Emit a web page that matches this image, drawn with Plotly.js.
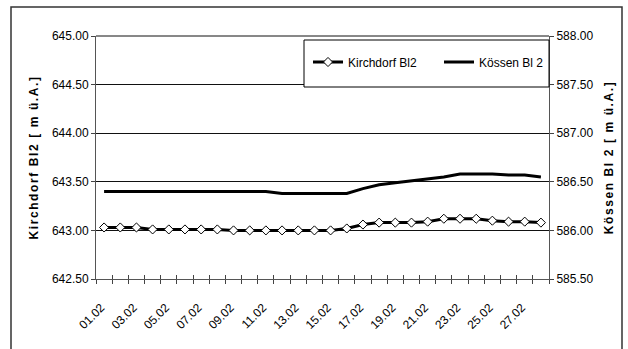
<!DOCTYPE html>
<html>
<head>
<meta charset="utf-8">
<script src="https://cdn.plot.ly/plotly-3.0.1.min.js"></script>
<style>
  html, body { margin: 0; padding: 0; background: #fff; }
  #chart { width: 628px; height: 349px; }
  .ytitle, .y2title { letter-spacing: 1.6px; }
</style>
</head>
<body>
<div id="chart"></div>
<script>
// Data
const dates = ['01.02','02.02','03.02','04.02','05.02','06.02','07.02','08.02','09.02','10.02',
               '11.02','12.02','13.02','14.02','15.02','16.02','17.02','18.02','19.02','20.02',
               '21.02','22.02','23.02','24.02','25.02','26.02','27.02','28.02'];
const kirchdorf = [643.03,643.03,643.03,643.01,643.01,643.01,643.01,643.01,643.00,643.00,
                   643.00,643.00,643.00,643.00,643.00,643.02,643.06,643.08,643.08,643.08,
                   643.09,643.12,643.12,643.12,643.10,643.09,643.09,643.08];
const koessen = [586.40,586.40,586.40,586.40,586.40,586.40,586.40,586.40,586.40,586.40,
                 586.40,586.38,586.38,586.38,586.38,586.38,586.43,586.47,586.49,586.51,
                 586.53,586.55,586.58,586.58,586.58,586.57,586.57,586.55];
const tickLabels = ['01.02','','03.02','','05.02','','07.02','','09.02','',
                    '11.02','','13.02','','15.02','','17.02','','19.02','',
                    '21.02','','23.02','','25.02','','27.02',''];
const leftRange = [642.5, 645];
const rightRange = [585.5, 588];

const FONT = 'Liberation Sans, Arial, sans-serif';

const traces = [
  {
    name: 'Kirchdorf Bl2', x: dates, y: kirchdorf, xaxis: 'x', yaxis: 'y',
    type: 'scatter', mode: 'lines+markers',
    line: {color: '#000', width: 3},
    marker: {symbol: 'diamond', size: 7, color: '#fff', line: {color: '#000', width: 1}}
  },
  {
    name: 'Kössen Bl 2', x: dates, y: koessen, xaxis: 'x2', yaxis: 'y2',
    type: 'scatter', mode: 'lines',
    line: {color: '#000', width: 3}
  }
];

const catAxis = {
  type: 'category', categoryorder: 'array', categoryarray: dates,
  range: [-0.5, dates.length - 0.5],
  tickmode: 'array', tickvals: dates, ticktext: tickLabels,
  tickson: 'boundaries', ticklen: 4, tickcolor: '#444', tickwidth: 1,
  showgrid: false, zeroline: false, fixedrange: true
};

const layout = {
  width: 628, height: 349,
  margin: {l: 96, r: 79, t: 36, b: 70},
  paper_bgcolor: '#fff', plot_bgcolor: '#fff',
  font: {family: FONT, size: 12, color: '#000'},
  showlegend: true,
  legend: {
    orientation: 'h', x: 0.468, xanchor: 'left', y: 0.893, yanchor: 'middle',
    bgcolor: 'rgba(0,0,0,0)', borderwidth: 0,
    font: {family: FONT, size: 12, color: '#000'},
    traceorder: 'normal', entrywidth: 86, itemwidth: 30
  },
  xaxis: Object.assign({}, catAxis, {
    anchor: 'y', ticks: 'outside', showticklabels: true, tickangle: -45,
    ticklabelstandoff: 16, ticklabelshift: -3,
    showline: true, linecolor: '#555', linewidth: 1,
    tickfont: {family: FONT, size: 12, color: '#000'}
  }),
  xaxis2: Object.assign({}, catAxis, {
    anchor: 'y', overlaying: 'x', side: 'bottom', ticks: 'inside',
    showticklabels: false, showline: false
  }),
  yaxis: {
    range: leftRange, dtick: 0.5, tick0: 642.5, tickformat: '.2f',
    ticks: 'outside', ticklen: 4, tickcolor: '#444',
    showline: true, linecolor: '#555', linewidth: 1,
    showgrid: true, gridcolor: '#111', gridwidth: 1, zeroline: false,
    tickfont: {family: FONT, size: 12, color: '#000'},
    title: {text: 'Kirchdorf Bl2 [ m ü.A.]', font: {family: FONT, size: 12, weight: 'bold', color: '#000'}, standoff: 10},
    fixedrange: true
  },
  yaxis2: {
    anchor: 'x2', overlaying: 'y', side: 'right',
    range: rightRange, dtick: 0.5, tick0: 585.5, tickformat: '.2f',
    ticks: 'outside', ticklen: 4, tickcolor: '#444',
    showline: true, linecolor: '#555', linewidth: 1,
    showgrid: false, zeroline: false,
    tickfont: {family: FONT, size: 12, color: '#000'},
    title: {text: 'Kössen Bl 2 [ m ü.A.]', font: {family: FONT, size: 12, weight: 'bold', color: '#000'}, standoff: 12},
    fixedrange: true
  },
  shapes: [
    // outer chart frame
    {type: 'rect', xref: 'paper', yref: 'paper',
     x0: (11 - 96) / 453, x1: (622 - 96) / 453, y0: (279 - 360) / 243, y1: (279 - 7) / 243,
     line: {color: '#333', width: 1.5}, fillcolor: 'rgba(0,0,0,0)', layer: 'above'},
    // top border of the plot area
    {type: 'line', xref: 'paper', yref: 'paper', x0: 0, x1: 1, y0: 1, y1: 1,
     line: {color: '#111', width: 1}, layer: 'below'},
    // legend box
    {type: 'rect', xref: 'paper', yref: 'paper',
     x0: (304 - 96) / 453, x1: (549 - 96) / 453, y0: (279 - 87) / 243, y1: (279 - 40) / 243,
     line: {color: '#000', width: 1}, fillcolor: '#fff', layer: 'above'}
  ]
};

Plotly.newPlot('chart', traces, layout, {displayModeBar: false, staticPlot: true});
</script>
</body>
</html>
